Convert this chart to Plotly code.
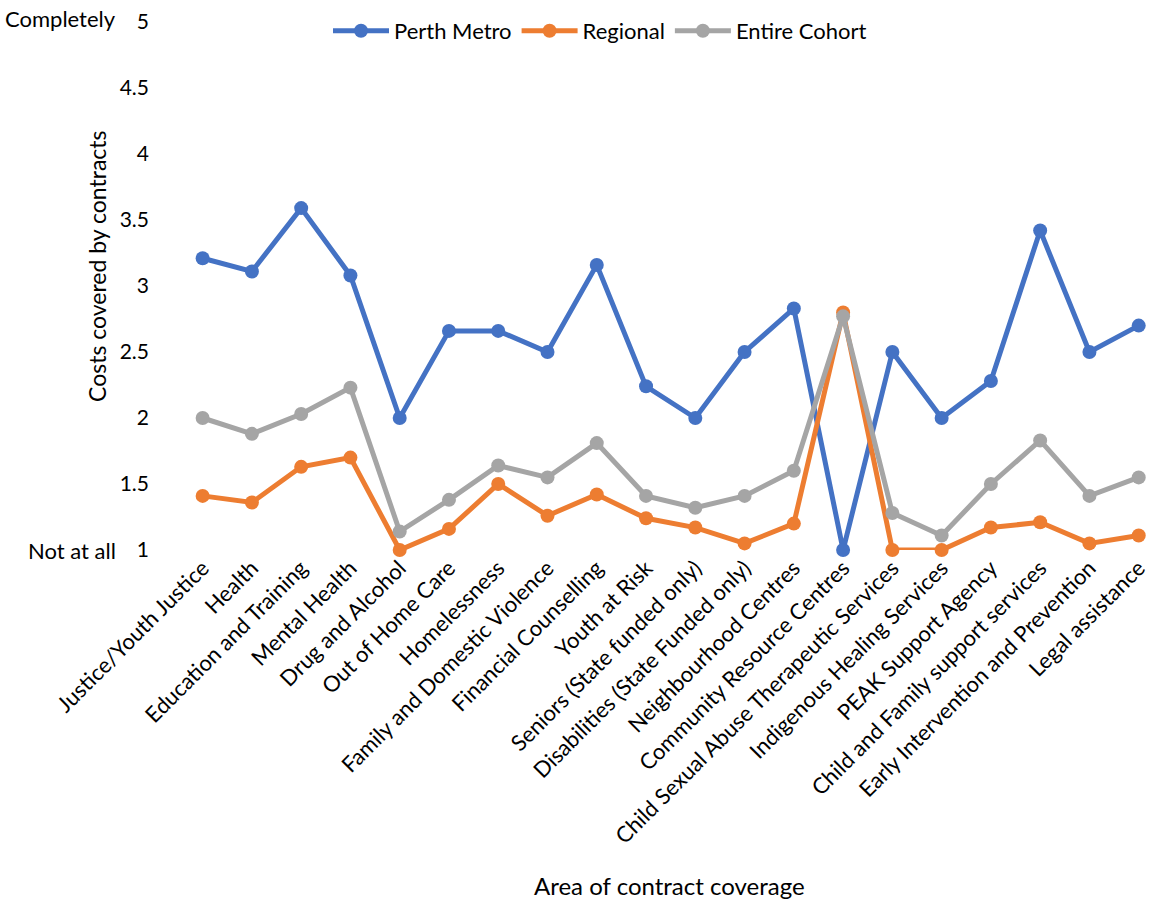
import plotly.graph_objects as go

categories = ["Justice/Youth Justice", "Health", "Education and Training", "Mental Health",
              "Drug and Alcohol", "Out of Home Care", "Homelessness", "Family and Domestic Violence",
              "Financial Counselling", "Youth at Risk", "Seniors (State funded only)",
              "Disabilities (State Funded only)", "Neighbourhood Centres", "Community Resource Centres",
              "Child Sexual Abuse Therapeutic Services", "Indigenous Healing Services",
              "PEAK Support Agency", "Child and Family support services",
              "Early Intervention and Prevention", "Legal assistance"]

perth_metro = [3.21, 3.11, 3.59, 3.08, 2.0, 2.66, 2.66, 2.5, 3.16, 2.24, 2.0, 2.5, 2.83, 1.0,
               2.5, 2.0, 2.28, 3.42, 2.5, 2.70]
regional = [1.41, 1.36, 1.63, 1.70, 1.0, 1.16, 1.5, 1.26, 1.42, 1.24, 1.17, 1.05, 1.2, 2.8,
            1.0, 1.0, 1.17, 1.21, 1.05, 1.11]
entire_cohort = [2.0, 1.88, 2.03, 2.23, 1.14, 1.38, 1.64, 1.55, 1.81, 1.41, 1.32, 1.41, 1.6, 2.77,
                 1.28, 1.11, 1.5, 1.83, 1.41, 1.55]

y_ticks = [1, 1.5, 2, 2.5, 3, 3.5, 4, 4.5, 5]
y_ticktext = ["1", "1.5", "2", "2.5", "3", "3.5", "4", "4.5", "5"]

series = [("Perth Metro", perth_metro, "#4472C4"),
          ("Regional", regional, "#ED7D31"),
          ("Entire Cohort", entire_cohort, "#A5A5A5")]

font_family = "Lato, 'Open Sans', sans-serif"

fig = go.Figure()
for name, vals, color in series:
    fig.add_trace(go.Scatter(
        x=list(range(len(categories))), y=vals, name=name, mode="lines+markers",
        line=dict(color=color, width=5), marker=dict(color=color, size=14),
        cliponaxis=False))

L = 178
W = 1152
T = 22
B = 355
plot_w = W - L
plot_h = 905 - T - B

def px_x(p):
    return (p - L) / plot_w

def px_y(p):
    return (905 - B - p) / plot_h

fig.update_layout(
    width=1152, height=905,
    margin=dict(l=L, r=0, t=T, b=B, autoexpand=False),
    paper_bgcolor="white", plot_bgcolor="white",
    font=dict(family=font_family, size=21, color="#000000"),
    showlegend=True,
    legend=dict(orientation="h", x=px_x(600), xanchor="center", y=px_y(31), yanchor="middle",
                font=dict(size=22), bgcolor="rgba(0,0,0,0)", tracegroupgap=0, itemwidth=56),
    xaxis=dict(
        tickmode="array", tickvals=list(range(len(categories))), ticktext=categories,
        tickangle=-45, range=[-0.5, 19.27], showgrid=False, zeroline=False, showline=False,
        ticks="", tickfont=dict(size=22)),
    yaxis=dict(
        range=[1, 5], tickmode="array", tickvals=y_ticks, ticktext=y_ticktext,
        showgrid=False, zeroline=False, showline=False, ticks="", ticklabelstandoff=28,
        tickfont=dict(size=21)),
)

fig.add_annotation(text="Area of contract coverage", xref="paper", yref="paper",
                   x=px_x(669), y=px_y(886), xanchor="center", yanchor="middle",
                   showarrow=False, font=dict(size=24))
fig.add_annotation(text="Costs covered by contracts", xref="paper", yref="paper",
                   x=px_x(97), y=px_y(266), xanchor="center", yanchor="middle", textangle=-90,
                   showarrow=False, font=dict(size=23))
fig.add_annotation(text="Not at all", xref="paper", yref="y", x=px_x(118), y=1,
                   xanchor="right", yanchor="middle", showarrow=False, font=dict(size=22))
fig.add_annotation(text="Completely", xref="paper", yref="y", x=px_x(118), y=5,
                   xanchor="right", yanchor="middle", yshift=4, showarrow=False, font=dict(size=22))

fig.write_html("out.html")
